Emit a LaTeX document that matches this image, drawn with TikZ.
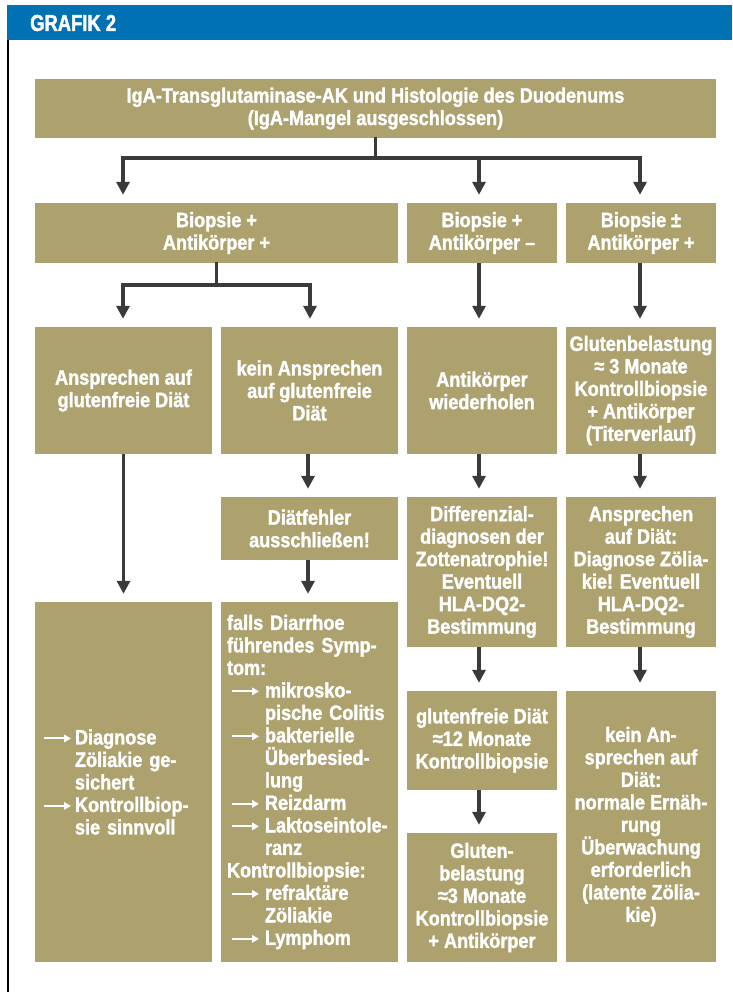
\documentclass[tikz,border=0pt]{standalone}
\usepackage{fontspec}
\setmainfont{Liberation Sans}[FakeStretch=0.87, FakeBold=1.6]
\newfontfamily\titlefont{Liberation Sans}[FakeStretch=0.8, FakeBold=1.8]
\usetikzlibrary{arrows.meta,calc}
\definecolor{boxc}{RGB}{173,161,110}
\definecolor{arrc}{RGB}{58,58,58}
\definecolor{headc}{RGB}{0,113,178}
\newcommand\tarr{\tikz[baseline=0pt]\draw[white,line width=2pt,-{Triangle[length=7pt,width=7.5pt]}] (0pt,6pt) -- (27pt,6pt);}
\newcommand\aiL{\makebox[34pt][l]{\hspace*{2pt}\tarr}}
\newcommand\ciL{\hspace*{34pt}}
\newcommand\aiR{\makebox[38pt][l]{\hspace*{4pt}\tarr}}
\newcommand\ciR{\hspace*{38pt}}
\begin{document}
\begin{tikzpicture}[x=1pt,y=-1pt,
  box/.style={fill=boxc, text=white, font=\bfseries\fontsize{20.8}{22.5}\selectfont, inner sep=0pt, align=center},
  lbox/.style={box, align=left, inner xsep=6pt, text width=165pt},
  arr/.style={draw=arrc, line width=3.2pt, -{Triangle[length=13pt,width=13pt]}, shorten >=8pt},
  conn/.style={draw=arrc, line width=3.2pt, line cap=rect}]
\useasboundingbox (0,0) rectangle (732,992);
\fill[white] (0,0) rectangle (732,992);
% header
\fill[headc] (7,5) rectangle (732,40);
\node[anchor=west, text=white, font=\titlefont\bfseries\fontsize{23}{26}\selectfont, inner sep=0pt] (title) at (30,23) {GRAFIK 2};
\draw[black, line width=2.5pt] (8,40) -- (8,992);

% boxes
\node[box, minimum width=681pt, minimum height=59pt] (top) at (375.5,108.5) {IgA-Transglutaminase-AK und Histologie des Duodenums\\(IgA-Mangel ausgeschlossen)};

\node[box, minimum width=363pt, minimum height=60pt] (b1) at (216.5,233) {Biopsie +\\Antikörper +};
\node[box, minimum width=150pt, minimum height=60pt] (b2) at (482,233) {Biopsie +\\Antikörper –};
\node[box, minimum width=150pt, minimum height=60pt] (b3) at (641,233) {Biopsie ±\\Antikörper +};

\node[box, minimum width=177pt, minimum height=127pt] (c1) at (123.5,390.5) {Ansprechen auf\\glutenfreie Diät};
\node[box, minimum width=177pt, minimum height=127pt] (c2) at (309.5,390.5) {kein Ansprechen\\auf glutenfreie\\Diät};
\node[box, minimum width=150pt, minimum height=127pt] (c3) at (482,390.5) {Antikörper\\wiederholen};
\node[box, minimum width=150pt, minimum height=127pt] (c4) at (641,390.5) {Glutenbelastung\\≈ 3 Monate\\Kontrollbiopsie\\+ Antikörper\\(Titerverlauf)};

\node[box, minimum width=177pt, minimum height=63pt] (d2) at (309.5,528.5) {Diätfehler\\ausschließen!};
\node[box, minimum width=150pt, minimum height=150pt] (d3) at (482,572) {Differenzial-\\diagnosen der\\Zottenatrophie!\\Eventuell\\HLA-DQ2-\\Bestimmung};
\node[box, minimum width=150pt, minimum height=150pt] (d4) at (641,572) {Ansprechen\\auf Diät:\\Diagnose Zölia-\\kie! Eventuell\\HLA-DQ2-\\Bestimmung};

\node[lbox, minimum height=360pt] (e1) at (123.5,782) {\aiL Diagnose\\\ciL Zöliakie ge-\\\ciL sichert\\\aiL Kontrollbiop-\\\ciL sie sinnvoll};
\node[lbox, minimum height=360pt] (e2) at (309.5,782) {falls Diarrhoe\\führendes Symp-\\tom:\\\aiR mikrosko-\\\ciR pische Colitis\\\aiR bakterielle\\\ciR Überbesied-\\\ciR lung\\\aiR Reizdarm\\\aiR Laktoseintole-\\\ciR ranz\\Kontrollbiopsie:\\\aiR refraktäre\\\ciR Zöliakie\\\aiR Lymphom};
\node[box, minimum width=150pt, minimum height=99pt] (e3) at (482,740.5) {glutenfreie Diät\\≈12 Monate\\Kontrollbiopsie};
\node[box, minimum width=150pt, minimum height=271pt] (e4) at (641,826.5) {kein An-\\sprechen auf\\Diät:\\normale Ernäh-\\rung\\Überwachung\\erforderlich\\(latente Zölia-\\kie)};
\node[box, minimum width=150pt, minimum height=129pt] (f3) at (482,897.5) {Gluten-\\belastung\\≈3 Monate\\Kontrollbiopsie\\+ Antikörper};

% connectors
\coordinate (busL) at (123,158);
\coordinate (busR) at (640,158);
\draw[conn] (top.south) -- (top.south |- busL);
\draw[conn] (busL) -- (busR);
\draw[arr] (busL) -- (busL |- b1.north);
\draw[arr] ($(b2.north |- busL)+(-3,0)$) -- ($(b2.north)+(-3,0)$);
\draw[arr] (busR) -- (busR |- b3.north);

\coordinate (bus2L) at (123,285);
\coordinate (bus2R) at (310,285);
\draw[conn] (b1.south) -- (b1.south |- bus2L);
\draw[conn] (bus2L) -- (bus2R);
\draw[arr] (bus2L) -- (bus2L |- c1.north);
\draw[arr] (bus2R) -- (bus2R |- c2.north);
\draw[arr] ($(b2.south)+(-3,0)$) -- ($(c3.north)+(-3,0)$);
\draw[arr] ($(b3.south)+(-1,0)$) -- ($(c4.north)+(-1,0)$);

\draw[arr] (c1.south) -- (c1.south |- e1.north);
\draw[arr] ($(c2.south)+(-1.5,0)$) -- ($(d2.north)+(-1.5,0)$);
\draw[arr] ($(d2.south)+(-1.5,0)$) -- ($(e2.north)+(-1.5,0)$);
\draw[arr] ($(c3.south)+(-3,0)$) -- ($(d3.north)+(-3,0)$);
\draw[arr] ($(c4.south)+(-1,0)$) -- ($(d4.north)+(-1,0)$);
\draw[arr] ($(d3.south)+(-3,0)$) -- ($(e3.north)+(-3,0)$);
\draw[arr] ($(d4.south)+(-1,0)$) -- ($(e4.north)+(-1,0)$);
\draw[arr] ($(e3.south)+(-3,0)$) -- ($(f3.north)+(-3,0)$);
\end{tikzpicture}
\end{document}
